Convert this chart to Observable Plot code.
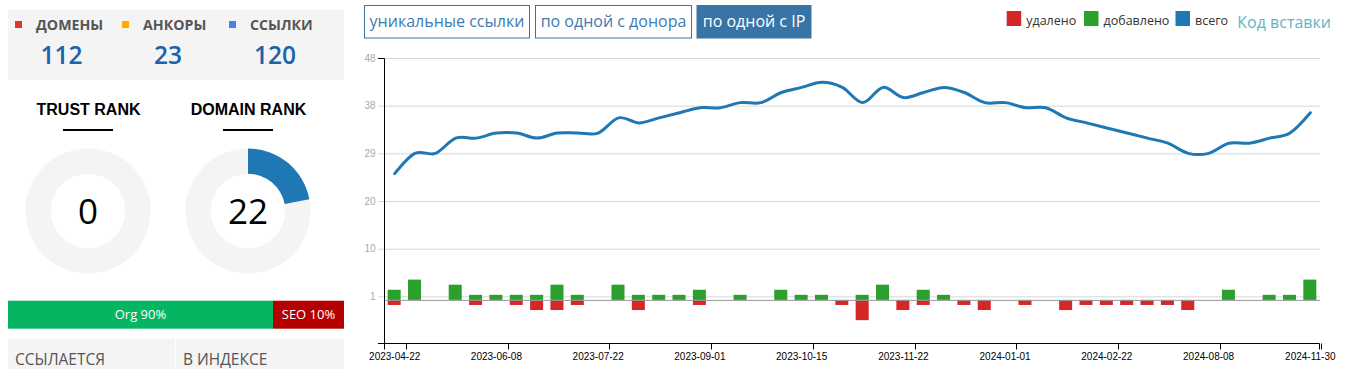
<!DOCTYPE html>
<html><head><meta charset="utf-8">
<script src="https://cdn.jsdelivr.net/npm/d3@7"></script>
<script src="https://cdn.jsdelivr.net/npm/@observablehq/plot@0.6"></script>
<style>
html,body{margin:0;padding:0;background:#fff;}
body{width:1351px;height:369px;overflow:hidden;position:relative;font-family:"Open Sans",sans-serif;}
#page{position:absolute;left:0;top:0;}
#chart{position:absolute;left:340px;top:40px;}
</style></head><body>
<svg id="page" width="1351" height="369"></svg>
<div id="chart"></div>
<script>
// ---------- data ----------
const statNames = ["ДОМЕНЫ", "АНКОРЫ", "ССЫЛКИ"];
const statValues = [112, 23, 120];
const statColors = ["#e5332f", "#ffab00", "#4d7fe8"];
const rankNames = ["TRUST RANK", "DOMAIN RANK"];
const rankValues = [0, 22];
const rankMax = 100;
const trafficLabels = ["Org", "SEO"];
const trafficValues = [90, 10];
const bottomLabels = ["ССЫЛАЕТСЯ", "В ИНДЕКСЕ"];
const tabLabels = ["уникальные ссылки", "по одной с донора", "по одной с IP"];
const activeTab = 2;
const legendLabels = ["удалено", "добавлено", "всего"];
const embedLabel = "Код вставки";

const xTickLabels = ["2023-04-22", "2023-06-08", "2023-07-22", "2023-09-01", "2023-10-15",
  "2023-11-22", "2024-01-01", "2024-02-22", "2024-08-08", "2024-11-30"];
const xTickIndex = [0, 5, 10, 15, 20, 25, 30, 35, 40, 45];
const yTickLabels = ["48", "38", "29", "20", "10", "1"];

const totalLinks = [25, 29, 29, 32, 32, 33, 33, 32, 33, 33, 33, 36, 35, 36, 37, 38, 38, 39, 39, 41,
  42, 43, 42, 39, 42, 40, 41, 42, 41, 39, 39, 38, 38, 36, 35, 34, 33, 32, 31, 29,
  29, 31, 31, 32, 33, 37];
const addedLinks = [2, 4, 0, 3, 1, 1, 1, 1, 3, 1, 0, 3, 1, 1, 1, 2, 0, 1, 0, 2,
  1, 1, 0, 1, 3, 0, 2, 1, 0, 0, 0, 0, 0, 0, 0, 0, 0, 0, 0, 0,
  0, 2, 0, 1, 1, 4];
const removedLinks = [-1, 0, 0, 0, -1, 0, -1, -2, -2, -1, 0, 0, -2, 0, 0, -1, 0, 0, 0, 0,
  0, 0, -1, -4, 0, -2, -1, 0, -1, -2, 0, -1, 0, -2, -1, -1, -1, -1, -1, -2,
  0, 0, 0, 0, 0, 0];

// ---------- styling / layout ----------
const C = {red: "#d62728", green: "#2ca02c", blue: "#1f77b4", panel: "#f4f4f4", tab: "#3874a5"};
const yTop = 47.7, yLo = -8.5, yStep = 9.4;

// ---------- left panel + header (d3) ----------
const page = d3.select("#page");
page.append("rect").attr("x", 8).attr("y", 10).attr("width", 336).attr("height", 70).attr("fill", C.panel);
const statSquareX = [15, 122, 229], statCenterX = [61.5, 168, 275];
statNames.forEach((n, i) => {
  page.append("rect").attr("x", statSquareX[i]).attr("y", 21).attr("width", 7).attr("height", 7).attr("fill", statColors[i]);
  page.append("text").attr("x", statSquareX[i] + 21).attr("y", 30).text(n)
    .attr("font-family", "Open Sans").attr("font-weight", 700).attr("font-size", 14.2).attr("fill", "#555");
  page.append("text").attr("x", statCenterX[i]).attr("y", 63.7).attr("text-anchor", "middle").text(statValues[i])
    .attr("font-family", "Open Sans").attr("font-weight", 600).attr("font-size", 24.5).attr("fill", "#1b63ad");
});
const rankCX = [88, 248];
const arc = d3.arc().innerRadius(37.3).outerRadius(62.5);
rankNames.forEach((n, i) => {
  page.append("text").attr("x", rankCX[i] + 0.5).attr("y", 115).attr("text-anchor", "middle").text(n)
    .attr("font-family", "Liberation Sans, Arial").attr("font-weight", 700).attr("font-size", 16).attr("fill", "#000");
  page.append("rect").attr("x", rankCX[i] - 25).attr("y", 129).attr("width", 50).attr("height", 2).attr("fill", "#000");
  const g = page.append("g").attr("transform", `translate(${rankCX[i]},211)`);
  g.append("path").attr("d", arc({startAngle: 0, endAngle: 2 * Math.PI})).attr("fill", C.panel);
  if (rankValues[i] > 0)
    g.append("path").attr("d", arc({startAngle: 0, endAngle: 2 * Math.PI * rankValues[i] / rankMax})).attr("fill", C.blue);
  g.append("text").attr("y", 12.5).attr("text-anchor", "middle").text(rankValues[i])
    .attr("font-family", "Open Sans").attr("font-size", 35).attr("fill", "#000");
});
// traffic bar
const trafficX = [8, 273], trafficW = [265, 71], trafficFill = ["#05b561", "#b50000"];
trafficLabels.forEach((n, i) => {
  page.append("rect").attr("x", trafficX[i]).attr("y", 300.7).attr("width", trafficW[i]).attr("height", 28).attr("fill", trafficFill[i]);
  page.append("text").attr("x", trafficX[i] + trafficW[i] / 2).attr("y", 318.5).attr("text-anchor", "middle")
    .text(`${n} ${trafficValues[i]}%`).attr("font-family", "Open Sans").attr("font-size", 13).attr("fill", "#fff");
});
const bottomX = [8, 176], bottomW = [167, 168];
bottomLabels.forEach((n, i) => {
  page.append("rect").attr("x", bottomX[i]).attr("y", 338.7).attr("width", bottomW[i]).attr("height", 40).attr("fill", C.panel);
  page.append("text").attr("x", bottomX[i] + 7).attr("y", 364.5).text(n)
    .attr("font-family", "Open Sans").attr("font-size", 15.5).attr("fill", "#555");
});
// tabs
const tabX = [364.5, 535.5, 697], tabW = [165, 156, 114];
tabLabels.forEach((n, i) => {
  const on = i === activeTab;
  page.append("rect").attr("x", tabX[i]).attr("y", 5.5).attr("width", tabW[i]).attr("height", 32.5)
    .attr("fill", on ? C.tab : "#fff").attr("stroke", C.tab).attr("stroke-width", 1);
  page.append("text").attr("x", tabX[i] + tabW[i] / 2).attr("y", 27).attr("text-anchor", "middle").text(n)
    .attr("font-family", "Open Sans").attr("font-size", 16).attr("fill", on ? "#fff" : "#3f7bb0");
});
// legend
const legX = [1006.7, 1084, 1175.5], legC = [C.red, C.green, C.blue];
legendLabels.forEach((n, i) => {
  page.append("rect").attr("x", legX[i]).attr("y", 11).attr("width", 14.5).attr("height", 15).attr("fill", legC[i]);
  page.append("text").attr("x", legX[i] + 19.5).attr("y", 24.5).text(n)
    .attr("font-family", "Open Sans").attr("font-size", 12.5).attr("fill", "#333");
});
page.append("text").attr("x", 1237.3).attr("y", 28).text(embedLabel)
  .attr("font-family", "Open Sans").attr("font-size", 16).attr("fill", "#62b3c7");

// ---------- chart (Plot) ----------
const idx = d3.range(totalLinks.length);
const rows = idx.map(i => ({i, total: totalLinks[i], added: addedLinks[i], removed: removedLinks[i]}));
const yTickPos = yTickLabels.map((_, k) => yTop - k * yStep);

const chart = Plot.plot({
  width: 1000, height: 329,
  marginTop: 18, marginBottom: 26, marginLeft: 44, marginRight: 20,
  style: {fontFamily: '"Liberation Sans", Arial, sans-serif', fontSize: "10px", background: "transparent", overflow: "visible"},
  x: {type: "band", domain: idx, paddingInner: 0.36, paddingOuter: 0.18, round: false, axis: null},
  y: {domain: [yLo, yTop], axis: null},
  marks: [
    Plot.ruleY(yTickPos, {stroke: "#d6d6d6", insetLeft: -6}),
    Plot.barY(rows.filter(d => d.added), {x: "i", y1: 0, y2: "added", fill: C.green}),
    Plot.barY(rows.filter(d => d.removed), {x: "i", y1: 0, y2: "removed", fill: C.red}),
    Plot.ruleY([0], {stroke: "#999"}),
    Plot.line(rows, {x: "i", y: "total", curve: "cardinal", stroke: C.blue, strokeWidth: 3}),
    Plot.text(yTickPos, {y: d => d, frameAnchor: "left", dx: -9, textAnchor: "end", text: (d, i) => yTickLabels[i], fill: "#aaa"}),
    Plot.text(xTickIndex, {x: d => d, frameAnchor: "bottom", dy: 16, text: (d, i) => xTickLabels[i], fill: "#000"})
  ]
});
document.getElementById("chart").appendChild(chart);

// axis domain lines and tick marks, positioned with the plot's own scales
const sx = chart.scale("x"), sy = chart.scale("y");
const L = sx.range[0], R = sx.range[1];
const T = Math.round(sy.apply(yTop)) + 0.5, B = Math.round(sy.apply(yLo)) + 0.5;
const ax = d3.select(chart).append("g").attr("fill", "none").attr("stroke", "#000");
ax.append("path").attr("d", `M${L - 6},${T}H${Math.round(L) + 0.5}V${B}H${L - 6}`);
ax.append("path").attr("d", `M${Math.round(L) + 0.5},${B + 6}V${B}H${Math.round(R) - 0.5}V${B + 6}`);
xTickIndex.forEach(i => {
  const x = Math.round(sx.apply(i) + sx.bandwidth + (sx.step - sx.bandwidth) / 2 + 1.5) + 0.5;
  ax.append("path").attr("d", `M${x},${B}V${B + 6}`);
});
</script>
</body></html>
